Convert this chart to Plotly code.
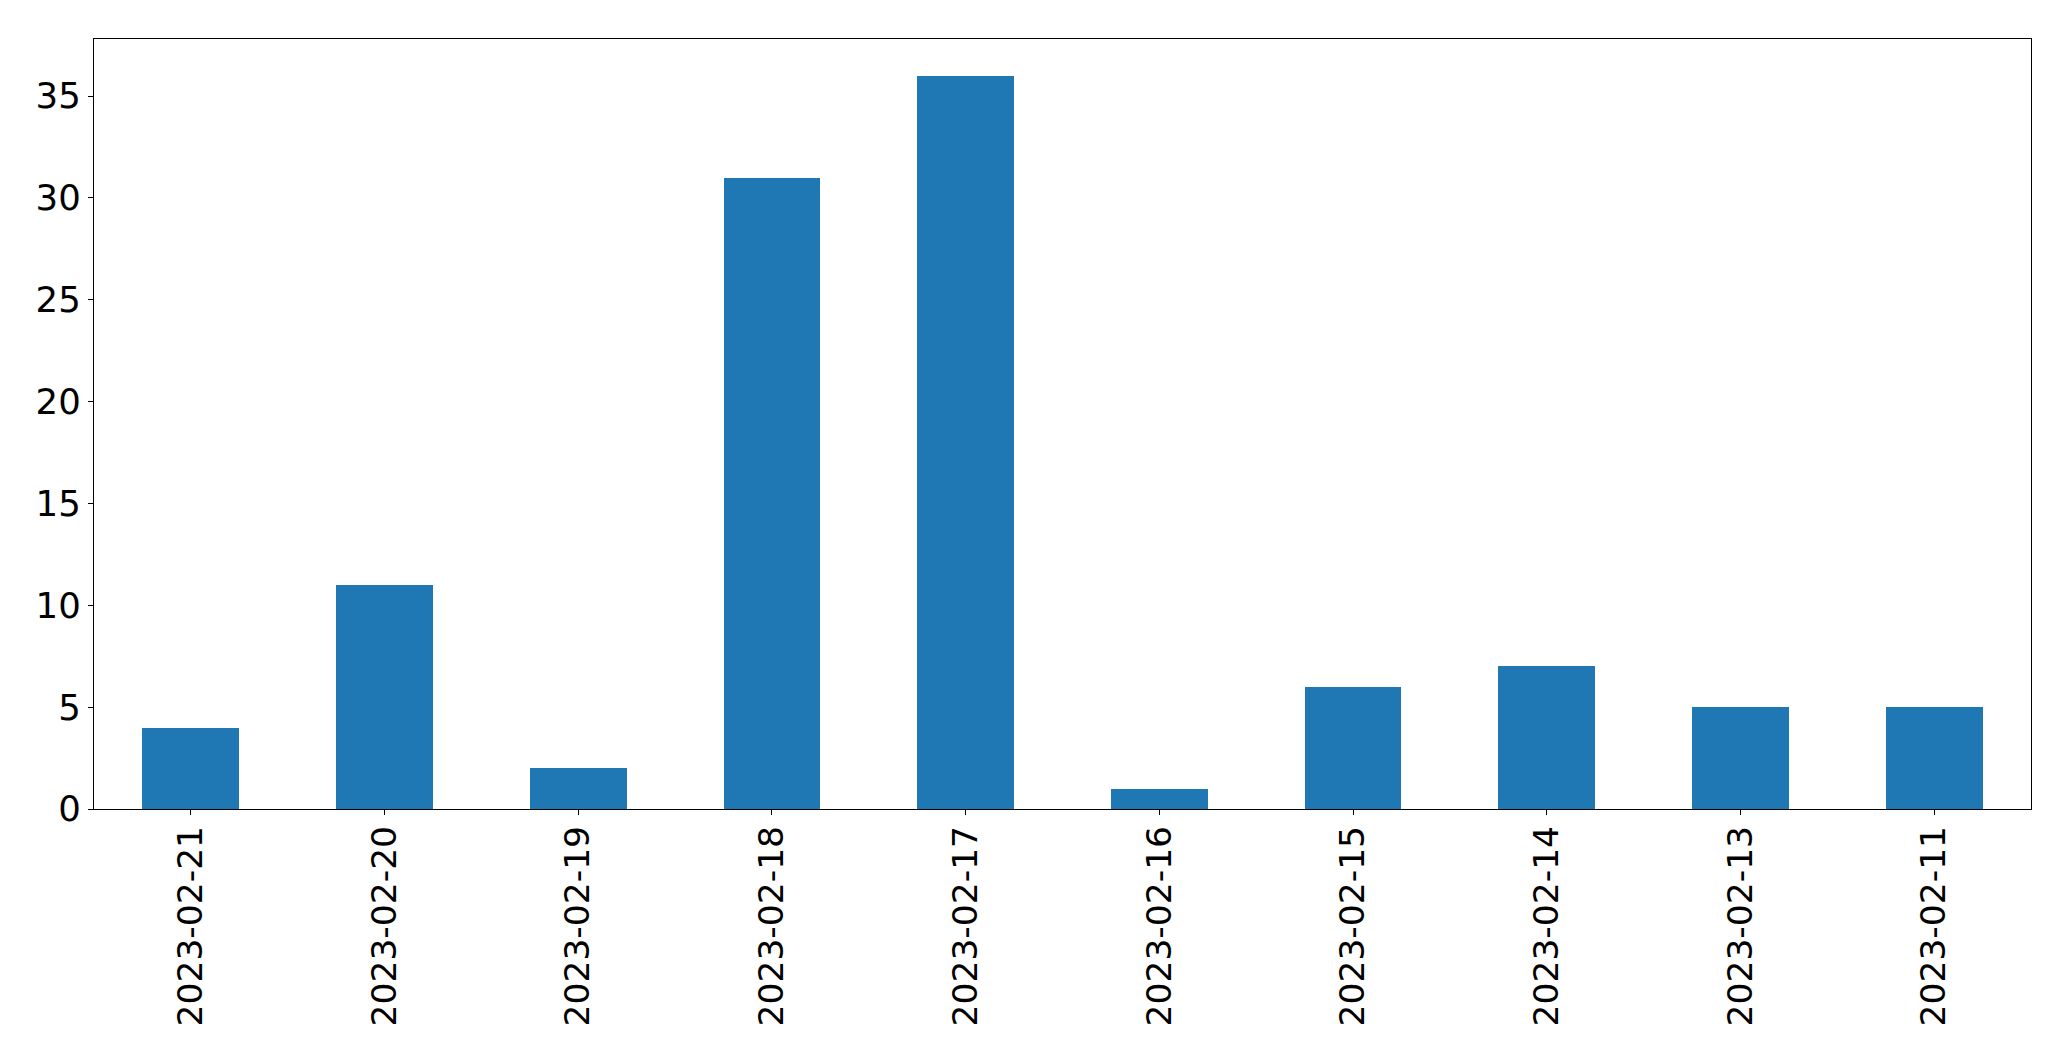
import plotly.graph_objects as go

dates = ["2023-02-21", "2023-02-20", "2023-02-19", "2023-02-18", "2023-02-17",
         "2023-02-16", "2023-02-15", "2023-02-14", "2023-02-13", "2023-02-11"]
counts = [4, 11, 2, 31, 36, 1, 6, 7, 5, 5]
y_ticks = [0, 5, 10, 15, 20, 25, 30, 35]

fig = go.Figure(go.Bar(
    x=dates, y=counts, width=0.5,
    marker=dict(color="#1f77b4", line=dict(width=0)),
))

axis_common = dict(
    showline=True, linecolor="black", linewidth=1.3, mirror=True,
    ticks="outside", ticklen=5, tickwidth=1.3, tickcolor="black",
    showgrid=False, zeroline=False,
)

# page body has an 8px margin; compensate so the axes land where the reference has them
fig.update_layout(
    width=2063, height=1053,
    margin=dict(l=86, r=40, t=31, b=252),
    paper_bgcolor="white", plot_bgcolor="white",
    showlegend=False,
    bargap=0,
)
fig.update_xaxes(type="category", range=[-0.5, 9.5], tickangle=-90,
                 ticklabelstandoff=-3,
                 tickfont=dict(family="DejaVu Sans", size=34.5, color="black"),
                 **axis_common)
fig.update_yaxes(range=[0, 37.8], tickvals=y_ticks,
                 tickfont=dict(family="DejaVu Sans", size=35.5, color="black"),
                 **axis_common)

fig.write_html("out.html")
